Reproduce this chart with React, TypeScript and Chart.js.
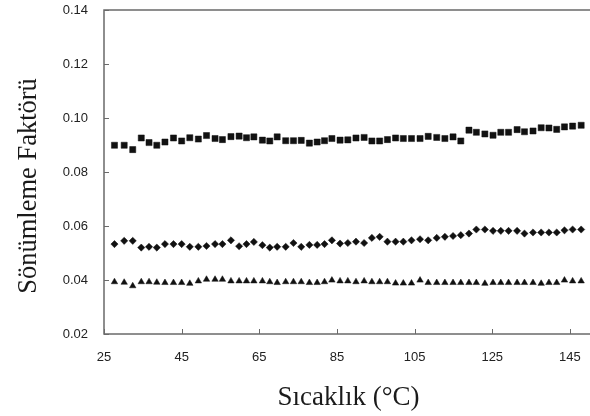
import { useEffect, useRef } from "react";
import { Chart, registerables } from "chart.js";

Chart.register(...registerables);

// Temperature (°C) of each measurement
const temperatures = [
  27.7, 30.2, 32.4, 34.6, 36.6, 38.6, 40.7, 42.9, 45.0, 47.1,
  49.3, 51.4, 53.6, 55.5, 57.7, 59.8, 61.7, 63.6, 65.8, 67.7,
  69.6, 71.8, 73.8, 75.8, 77.9, 79.9, 81.8, 83.7, 85.8, 87.8,
  89.9, 92.0, 94.0, 96.0, 98.0, 100.1, 102.1, 104.2, 106.4, 108.5,
  110.7, 112.8, 114.9, 116.9, 119.0, 120.9, 123.1, 125.2, 127.2, 129.2,
  131.4, 133.3, 135.5, 137.6, 139.6, 141.6, 143.6, 145.7, 147.9,
];

// Damping factor, square markers
const squareSeries = [
  0.0899, 0.0899, 0.0883, 0.0926, 0.0909, 0.0899, 0.0911, 0.0926, 0.0915, 0.0927,
  0.0922, 0.0935, 0.0924, 0.0920, 0.0931, 0.0933, 0.0927, 0.0930, 0.0918, 0.0915,
  0.0930, 0.0916, 0.0916, 0.0917, 0.0907, 0.0911, 0.0916, 0.0924, 0.0918, 0.0919,
  0.0926, 0.0928, 0.0915, 0.0915, 0.0920, 0.0926, 0.0924, 0.0924, 0.0924, 0.0932,
  0.0928, 0.0924, 0.0930, 0.0915, 0.0955, 0.0947, 0.0941, 0.0936, 0.0947, 0.0947,
  0.0957, 0.0949, 0.0952, 0.0964, 0.0963, 0.0958, 0.0967, 0.0970, 0.0973,
];

// Damping factor, diamond markers
const diamondSeries = [
  0.0533, 0.0545, 0.0545, 0.0520, 0.0523, 0.0520, 0.0533, 0.0533, 0.0533, 0.0523,
  0.0523, 0.0526, 0.0533, 0.0533, 0.0547, 0.0525, 0.0533, 0.0541, 0.0529, 0.0520,
  0.0523, 0.0523, 0.0537, 0.0523, 0.0530, 0.0530, 0.0533, 0.0547, 0.0535, 0.0537,
  0.0542, 0.0537, 0.0556, 0.0560, 0.0542, 0.0542, 0.0542, 0.0547, 0.0551, 0.0547,
  0.0556, 0.0560, 0.0563, 0.0566, 0.0572, 0.0587, 0.0587, 0.0582, 0.0582, 0.0582,
  0.0582, 0.0572, 0.0576, 0.0576, 0.0576, 0.0576, 0.0584, 0.0587, 0.0587,
];

// Damping factor, triangle markers
const triangleSeries = [
  0.0393, 0.0391, 0.0378, 0.0393, 0.0393, 0.0391, 0.0390, 0.0390, 0.0390, 0.0387,
  0.0396, 0.0402, 0.0402, 0.0402, 0.0396, 0.0396, 0.0396, 0.0396, 0.0396, 0.0393,
  0.0390, 0.0393, 0.0393, 0.0393, 0.0390, 0.0390, 0.0393, 0.0399, 0.0396, 0.0396,
  0.0393, 0.0396, 0.0393, 0.0393, 0.0393, 0.0388, 0.0388, 0.0388, 0.0399, 0.0390,
  0.0390, 0.0390, 0.0390, 0.0390, 0.0390, 0.0390, 0.0387, 0.0390, 0.0390, 0.0390,
  0.0390, 0.0390, 0.0390, 0.0387, 0.0390, 0.0390, 0.0399, 0.0396, 0.0396,
];

const xTickValues = [25, 45, 65, 85, 105, 125, 145];
const xTickLabels = ["25", "45", "65", "85", "105", "125", "145"];
const yTickValues = [0.02, 0.04, 0.06, 0.08, 0.1, 0.12, 0.14];
const yTickLabels = ["0.02", "0.04", "0.06", "0.08", "0.10", "0.12", "0.14"];

const xTitle = "Sıcaklık (°C)";
const yTitle = "Sönümleme Faktörü";

const markerColor = "#111111";
const frameColor = "#6a6a6a";
const tickFont = { family: "'Liberation Sans', Arial, sans-serif", size: 13 };
const titleFamily = "'Liberation Serif', 'Times New Roman', serif";

const toPoints = (values: number[]) =>
  values.map((v, i) => ({ x: temperatures[i], y: v }));

// Plot frame with inward tick marks, plus the rotated y-axis title
const framePlugin = {
  id: "frameAndInnerTicks",
  beforeDatasetsDraw(chart: any) {
    const { ctx, chartArea, scales } = chart;
    const { left, top, right, bottom } = chartArea;
    ctx.save();
    ctx.strokeStyle = frameColor;
    ctx.lineWidth = 1.5;
    ctx.strokeRect(left, top, right - left, bottom - top);
    ctx.lineWidth = 1;
    ctx.beginPath();
    for (const v of xTickValues) {
      const px = Math.round(scales.x.getPixelForValue(v)) + 0.5;
      ctx.moveTo(px, bottom);
      ctx.lineTo(px, bottom - 5);
    }
    for (const v of yTickValues) {
      const py = Math.round(scales.y.getPixelForValue(v)) + 0.5;
      ctx.moveTo(left, py);
      ctx.lineTo(left + 5, py);
    }
    ctx.stroke();
    ctx.restore();
  },
  afterDraw(chart: any) {
    const { ctx } = chart;
    ctx.save();
    ctx.fillStyle = "#1a1a1a";
    ctx.font = `26.5px ${titleFamily}`;
    ctx.textAlign = "center";
    ctx.textBaseline = "middle";
    ctx.translate(29, 186);
    ctx.rotate(-Math.PI / 2);
    ctx.fillText(yTitle, 0, 0);
    ctx.restore();
  },
};

export default function App() {
  const canvasRef = useRef<HTMLCanvasElement | null>(null);

  useEffect(() => {
    const canvas = canvasRef.current;
    if (!canvas) return;
    const chart = new Chart(canvas, {
      type: "scatter",
      data: {
        datasets: [
          {
            label: "square",
            data: toPoints(squareSeries),
            pointStyle: "rect",
            pointRadius: 4.3,
            backgroundColor: markerColor,
            borderColor: markerColor,
            borderWidth: 0.5,
          },
          {
            label: "diamond",
            data: toPoints(diamondSeries),
            pointStyle: "rectRot",
            pointRadius: 3.6,
            backgroundColor: markerColor,
            borderColor: markerColor,
            borderWidth: 0.5,
          },
          {
            label: "triangle",
            data: toPoints(triangleSeries),
            pointStyle: "triangle",
            pointRadius: 3.7,
            backgroundColor: markerColor,
            borderColor: markerColor,
            borderWidth: 0.5,
          },
        ],
      },
      options: {
        responsive: false,
        animation: false,
        layout: { padding: { top: 10, right: 2, left: 0, bottom: 0 } },
        plugins: {
          legend: { display: false },
          tooltip: { enabled: false },
        },
        scales: {
          x: {
            type: "linear",
            min: 25,
            max: 151,
            grid: { display: false, drawTicks: false },
            border: { display: false },
            afterBuildTicks: (scale: any) => {
              scale.ticks = xTickValues.map((value) => ({ value }));
            },
            afterFit: (scale: any) => {
              scale.height = 82;
              scale.paddingLeft = 0;
              scale.paddingRight = 0;
            },
            ticks: {
              padding: 16,
              color: "#222222",
              font: tickFont,
              maxRotation: 0,
              autoSkip: false,
              callback: (value: any) => {
                const i = xTickValues.indexOf(Number(value));
                return i >= 0 ? xTickLabels[i] : "";
              },
            },
            title: {
              display: true,
              text: xTitle,
              color: "#1a1a1a",
              font: { family: titleFamily, size: 27, lineHeight: 1.2 },
              padding: { top: 0, bottom: 2 },
            },
          },
          y: {
            type: "linear",
            min: 0.02,
            max: 0.14,
            grid: { display: false, drawTicks: false },
            border: { display: false },
            afterBuildTicks: (scale: any) => {
              scale.ticks = yTickValues.map((value) => ({ value }));
            },
            afterFit: (scale: any) => {
              scale.width = 104;
              scale.paddingTop = 0;
              scale.paddingBottom = 0;
            },
            ticks: {
              padding: 16,
              color: "#222222",
              font: tickFont,
              autoSkip: false,
              callback: (value: any) => {
                const i = yTickValues.findIndex((t) => Math.abs(t - Number(value)) < 1e-9);
                return i >= 0 ? yTickLabels[i] : "";
              },
            },
          },
        },
      },
      plugins: [framePlugin],
    });
    return () => chart.destroy();
  }, []);

  return (
    <div
      style={{
        position: "fixed",
        left: 0,
        top: 0,
        width: 590,
        height: 416,
        overflow: "hidden",
        background: "#ffffff",
      }}
    >
      <canvas ref={canvasRef} width={598} height={416} style={{ display: "block" }} />
    </div>
  );
}
